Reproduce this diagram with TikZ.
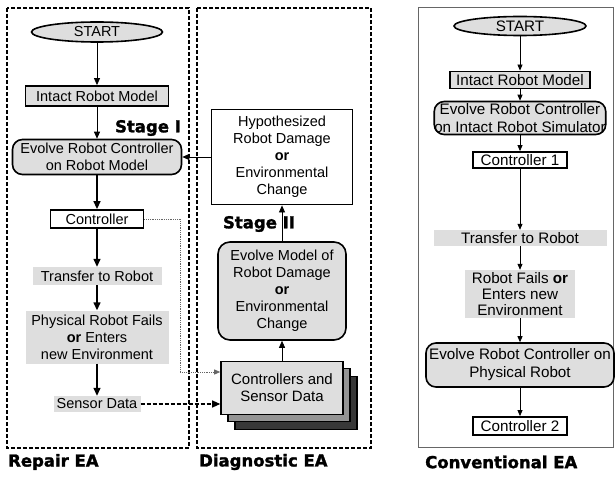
\documentclass[tikz,border=0pt]{standalone}
\usepackage{fontspec}
\setmainfont{Liberation Sans}
\newfontfamily\labelfont{DejaVu Sans}[BoldFeatures={FakeBold=1.6}]
\usepackage{tikz}
\usetikzlibrary{shapes,arrows.meta,positioning}
\definecolor{fillgray}{gray}{0.87}
\definecolor{stackmid}{gray}{0.58}
\definecolor{stackdark}{gray}{0.22}
\definecolor{framegray}{gray}{0.4}

\begin{document}
\begin{tikzpicture}[
    x=1pt, y=-1pt,
    every node/.style={font=\fontsize{14.5}{17}\selectfont, inner sep=0pt, align=center},
    conv/.style={font=\fontsize{15.2}{16}\selectfont},
    startnode/.style={ellipse, draw, line width=1.6pt, fill=fillgray},
    modelbox/.style={rectangle, draw, line width=1.8pt, fill=fillgray},
    ctrlbox/.style={rectangle, draw, line width=1.8pt, fill=white},
    evolvebox/.style={rectangle, draw, rounded corners=10pt, line width=1.6pt, fill=fillgray},
    stepbox/.style={rectangle, fill=fillgray},
    stackbox/.style={rectangle, draw, line width=1.6pt, minimum width=122, minimum height=53},
    stagelabel/.style={font=\labelfont\bfseries\fontsize{16.5}{18}\selectfont},
    frame/.style={line width=1.4pt, dash pattern=on 4pt off 2pt},
    arrow/.style={-{Triangle[length=8pt,width=7pt]}, line width=1.4pt},
    thinarrow/.style={-{Triangle[length=7pt,width=6pt]}, line width=0.8pt},
    smallarrow/.style={-{Triangle[length=6pt,width=5pt]}, line width=0.8pt}
]
\useasboundingbox (0,0) rectangle (615,476);

% Frames
\draw[frame] (7,8) rectangle (189,448);
\draw[frame] (197,8) rectangle (371,448);
\draw[framegray, line width=0.9pt] (418,7) rectangle (613,447);

% Repair EA
\node[startnode, minimum width=131, minimum height=20] (startrep) at (97,32) {START};
\node[modelbox, minimum width=143, minimum height=20] (intactrep) at (97,96) {Intact Robot Model};
\node[stagelabel] (stageone) at (148,128) {Stage I};
\node[evolvebox, minimum width=169, minimum height=35] (evolverep) at (97,157) {Evolve Robot Controller\\on Robot Model};
\node[ctrlbox, minimum width=93, minimum height=18] (ctrlrep) at (97,219) {Controller};
\node[stepbox, minimum width=129, minimum height=18] (transferrep) at (97,276) {Transfer to Robot};
\node[stepbox, minimum width=143, minimum height=53] (failrep) at (97,337) {Physical Robot Fails\\\textbf{or} Enters\\new Environment};
\node[stepbox, minimum width=87, minimum height=16] (sensorrep) at (97,404) {Sensor Data};

% Diagnostic EA
\node[ctrlbox, minimum width=141, minimum height=95] (hyp) at (282,157) {Hypothesized\\Robot Damage\\\textbf{or}\\Environmental\\Change};
\node[stagelabel] (stagetwo) at (259,224) {Stage II};
\node[evolvebox, rounded corners=12pt, minimum width=128, minimum height=98] (evolvemodel) at (282,291) {Evolve Model of\\Robot Damage\\\textbf{or}\\Environmental\\Change};
\node[stackbox, fill=stackdark] (stackback) at (296,403) {};
\node[stackbox, fill=stackmid] (stackmidbox) at (289,395) {};
\node[stackbox, fill=fillgray, font=\fontsize{15}{17}\selectfont] (stack) at (282,388) {Controllers and\\Sensor Data};

% Conventional EA
\node[startnode, conv, minimum width=132, minimum height=19] (startconv) at (520,26) {START};
\node[modelbox, conv, minimum width=140, minimum height=17] (intactconv) at (520,80) {Intact Robot Model};
\node[evolvebox, conv, font=\fontsize{15.2}{18}\selectfont, minimum width=155, minimum height=33] (evolveconv) at (520,118) {Evolve Robot Controller\\on Intact Robot Simulator};
\node[ctrlbox, conv, minimum width=94, minimum height=16] (ctrlone) at (520,160) {Controller 1};
\node[stepbox, conv, minimum width=173, minimum height=16] (transferconv) at (520,238) {Transfer to Robot};
\node[stepbox, conv, minimum width=110, minimum height=48] (failconv) at (520,294) {Robot Fails \textbf{or}\\Enters new\\Environment};
\node[evolvebox, conv, font=\fontsize{15.2}{18}\selectfont, minimum width=188, minimum height=44] (evolvephys) at (520,365) {Evolve Robot Controller on\\Physical Robot};
\node[ctrlbox, conv, minimum width=94, minimum height=18] (ctrltwo) at (520,426) {Controller 2};

% Bottom labels
\node[stagelabel, anchor=west] (repairlabel) at (8,462) {Repair EA};
\node[stagelabel, anchor=west] (diaglabel) at (199,462) {Diagnostic EA};
\node[stagelabel, anchor=west] (convlabel) at (425,462) {Conventional EA};

% Arrows
\draw[thinarrow] (startrep) -- (intactrep);
\draw[thinarrow] (intactrep) -- (evolverep);
\draw[arrow] (evolverep) -- (ctrlrep);
\draw[arrow] (ctrlrep) -- (transferrep);
\draw[arrow] (transferrep) -- (failrep);
\draw[arrow] (failrep) -- (sensorrep);
\draw[thinarrow] (hyp) -- (evolverep);
\draw[thinarrow] (evolvemodel) -- (hyp);
\draw[thinarrow] (stack) -- (evolvemodel);
\coordinate (dotcorner) at (180,372);
\draw[smallarrow, densely dotted, framegray] (ctrlrep.east) -| (dotcorner) -- (dotcorner -| stack.west);
\draw[arrow, line width=1.2pt, dash pattern=on 4pt off 2pt] (sensorrep.east) -- (sensorrep.east -| stack.west);

\draw[smallarrow] (startconv) -- (intactconv);
\draw[smallarrow] (intactconv) -- (evolveconv);
\draw[smallarrow] (evolveconv) -- (ctrlone);
\draw[smallarrow] (ctrlone) -- (transferconv);
\draw[smallarrow] (transferconv) -- (failconv);
\draw[smallarrow] (failconv) -- (evolvephys);
\draw[smallarrow] (evolvephys) -- (ctrltwo);

\end{tikzpicture}
\end{document}
